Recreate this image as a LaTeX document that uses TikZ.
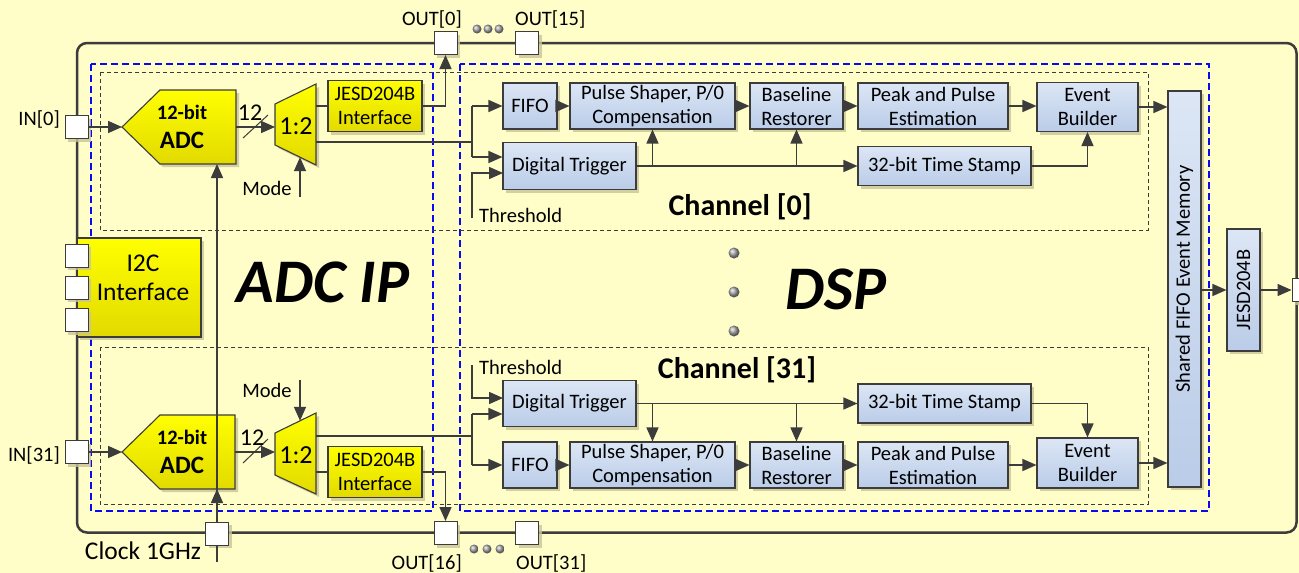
\documentclass[tikz,border=0pt]{standalone}
\usepackage{fontspec}
\setmainfont{Carlito}
\usetikzlibrary{arrows.meta,shadows,calc}

\definecolor{bg}{RGB}{255,253,200}
\definecolor{ln}{RGB}{60,60,60}
\definecolor{blueA}{RGB}{220,230,245}
\definecolor{blueB}{RGB}{186,204,232}
\definecolor{yelA}{RGB}{255,255,0}
\definecolor{yelB}{RGB}{226,218,0}
\definecolor{dashblue}{RGB}{10,10,240}
\definecolor{shadowc}{RGB}{200,196,150}

\tikzset{
  txt/.style={font=\fontsize{20.5}{24}\selectfont, text=black, inner sep=0pt},
  boxshadow/.style={drop shadow={shadow xshift=3pt,shadow yshift=-3pt,fill=shadowc,opacity=0.8}},
  dspbox/.style={txt, boxshadow, draw=ln, line width=1.1pt, top color=blueA, bottom color=blueB, align=center},
  yelbox/.style={txt, boxshadow, draw=ln, line width=1.1pt, top color=yelA, bottom color=yelB, align=center},
  yelshape/.style={boxshadow, draw=ln, line width=1.1pt, top color=yelA, bottom color=yelB},
  port/.style={draw=ln, line width=1pt, fill=white, minimum size=23pt, inner sep=0pt, boxshadow},
  conn/.style={draw=ln, line width=1.5pt},
  arr/.style={conn, -{Triangle[length=14pt,width=12pt]}},
  ipbox/.style={draw=dashblue, line width=1.8pt, dash pattern=on 7pt off 4pt},
  chbox/.style={draw=ln, line width=1pt, dash pattern=on 4pt off 3pt},
  chipframe/.style={draw=ln, line width=2.5pt, rounded corners=10pt},
  sphere/.style={ball color=gray!70, draw=none},
  bigtitle/.style={font=\fontsize{62}{62}\selectfont\bfseries\itshape, inner sep=0pt},
  chan/.style={font=\fontsize{30}{30}\selectfont\bfseries, inner sep=0pt},
  adcsmall/.style={txt, font=\fontsize{20.5}{24}\selectfont\bfseries},
  adcbig/.style={txt, font=\fontsize{25}{25}\selectfont\bfseries},
  muxtxt/.style={txt, font=\fontsize{26}{26}\selectfont},
  bustxt/.style={txt, font=\fontsize{24}{24}\selectfont},
  largetxt/.style={txt, font=\fontsize{25.5}{29}\selectfont, align=center},
}

\begin{document}
\begin{tikzpicture}[x=1pt,y=-1pt]
\useasboundingbox (0,0) rectangle (1299,573);
\fill[bg] (0,0) rectangle (1299,573);

% chip outline
\draw[chipframe] (77,43) rectangle (1296.5,532.5);

% ADC IP and DSP regions
\draw[ipbox] (91,64) rectangle (433,511);
\draw[ipbox] (460,64) rectangle (1209,511);

% channel frames
\draw[chbox] (100,72) rectangle (1148,230);
\draw[chbox] (100,347) rectangle (1148,504);

% ---------------- ADC side, channel 0 ----------------
\path[yelshape] (122,127) -- (160,90) -- (236,90) -- (236,164) -- (160,164) -- cycle;
\node[adcsmall] (adc0a) at (182,112) {12-bit};
\node[adcbig] (adc0b) at (182,140) {ADC};
\coordinate (adc0tip) at (122,127);
\coordinate (adc0out) at (236,127);
\coordinate (adc0clk) at (217,164);

\path[yelshape] (275,104) -- (316,84) -- (316,165) -- (275,145) -- cycle;
\node[muxtxt] (mux0) at (296,126) {1:2};
\coordinate (mux0in) at (275,127);
\coordinate (mux0up) at (316,106);
\coordinate (mux0dn) at (316,142);
\coordinate (mux0sel) at (300,157.2);
\coordinate (mode0) at (300,197);

\node[yelbox, minimum width=94pt, minimum height=51pt] (jesd0) at (375,106) {JESD204B\\Interface};

% ---------------- ADC side, channel 31 ----------------
\path[yelshape] (122,452) -- (160,415) -- (235,415) -- (235,489) -- (160,489) -- cycle;
\node[adcsmall] (adc31a) at (182,437) {12-bit};
\node[adcbig] (adc31b) at (182,465) {ADC};
\coordinate (adc31tip) at (122,452);
\coordinate (adc31out) at (235,452);
\coordinate (adc31clk) at (217,489);

\path[yelshape] (275,433) -- (316,413) -- (316,494) -- (275,475) -- cycle;
\node[muxtxt] (mux31) at (296,455) {1:2};
\coordinate (mux31in) at (275,452);
\coordinate (mux31up) at (316,436);
\coordinate (mux31dn) at (316,472);
\coordinate (mux31sel) at (300,420.8);
\coordinate (mode31) at (300,380);

\node[yelbox, minimum width=94pt, minimum height=51pt] (jesd31) at (375,472) {JESD204B\\Interface};

% I2C block
\node[yelbox, minimum width=124pt, minimum height=99pt] (i2c) at (139,287.5) {};
\node[largetxt] (i2clbl) at (143,278) {I2C\\Interface};

% ---------------- DSP, channel 0 ----------------
\node[dspbox, minimum width=54pt, minimum height=46pt] (fifo0) at (530,106) {FIFO};
\node[dspbox, minimum width=165pt, minimum height=46pt] (pulse0) at (652.5,106) {Pulse Shaper, P/0\\Compensation};
\node[dspbox, minimum width=93pt, minimum height=46pt] (base0) at (796.5,106) {Baseline\\Restorer};
\node[dspbox, minimum width=150pt, minimum height=46pt] (peak0) at (933,106) {Peak and Pulse\\Estimation};
\node[dspbox, minimum width=101pt, minimum height=49pt] (eb0) at (1087.5,107) {Event\\Builder};
\node[dspbox, minimum width=133pt, minimum height=47pt] (dt0) at (569.5,166) {Digital Trigger};
\node[dspbox, minimum width=173pt, minimum height=39pt] (ts0) at (944.5,166) {32-bit Time Stamp};

% ---------------- DSP, channel 31 ----------------
\node[dspbox, minimum width=133pt, minimum height=46pt] (dt31) at (569.5,403.5) {Digital Trigger};
\node[dspbox, minimum width=173pt, minimum height=39pt] (ts31) at (944.5,403.5) {32-bit Time Stamp};
\node[dspbox, minimum width=54pt, minimum height=46pt] (fifo31) at (530,465) {FIFO};
\node[dspbox, minimum width=165pt, minimum height=46pt] (pulse31) at (652.5,465) {Pulse Shaper, P/0\\Compensation};
\node[dspbox, minimum width=93pt, minimum height=46pt] (base31) at (796.5,465) {Baseline\\Restorer};
\node[dspbox, minimum width=150pt, minimum height=46pt] (peak31) at (933,465) {Peak and Pulse\\Estimation};
\node[dspbox, minimum width=101pt, minimum height=50pt] (eb31) at (1087.5,463) {Event\\Builder};

% shared memory and output serializer
\node[dspbox, minimum width=33pt, minimum height=396pt] (shared) at (1184.5,289) {\rotatebox{90}{\hspace{20pt}Shared FIFO Event Memory}};
\node[dspbox, minimum width=33pt, minimum height=122pt] (jesdR) at (1243.5,290) {\rotatebox{90}{JESD204B}};

% ---------------- ports on the chip outline ----------------
\node[port] (in0) at (76.5,127) {};
\node[port] (in31) at (76.5,452) {};
\node[port] (i2ca) at (76.5,255.5) {};
\node[port] (i2cb) at (76.5,287.5) {};
\node[port] (i2cc) at (76.5,320) {};
\node[port] (out0) at (445.5,43) {};
\node[port] (out15) at (527,43) {};
\node[port] (out16) at (445.5,533) {};
\node[port] (out31) at (527,533) {};
\node[port] (clk) at (217,533.5) {};
\node[port] (outR) at (1303.5,290) {};

% ---------------- connections, ADC side ----------------
\draw[arr] (in0.east) -- (adc0tip);
\draw[arr] (adc0out) -- (mux0in);
\draw[conn, line width=1pt] (243,138) -- (268,115);
\draw[conn] (mux0up) -- (jesd0.west);
\draw[arr] (jesd0.east) -| (out0.south);
\draw[arr] (mode0) -- (mux0sel);

\draw[arr] (in31.east) -- (adc31tip);
\draw[arr] (adc31out) -- (mux31in);
\draw[conn, line width=1pt] (243,463) -- (268,439);
\draw[conn] (mux31dn) -- (jesd31.west);
\draw[arr] (jesd31.east) -| (out16.north);
\draw[arr] (mode31) -- (mux31sel);

% clock distribution
\coordinate (clkin) at (217,562);
\draw[conn] (clkin) -- (clk.south);
\draw[arr] (clk.north) -- (adc31clk);
\draw[arr] (clk.north) -- (adc0clk);

% ---------------- connections, channel 0 ----------------
\coordinate (sp0a) at (472,106);
\coordinate (sp0b) at (472,157);
\coordinate (th0) at (472,218);
\draw[conn] (mux0dn) -- (472,142);
\draw[conn] (sp0a) -- (sp0b);
\draw[arr] (sp0a) -- (fifo0.west);
\draw[arr] (sp0b) -- (sp0b -| dt0.west);
\draw[arr] (th0) |- (503,173);
\draw[arr] (fifo0.east) -- (pulse0.west);
\draw[arr] (pulse0.east) -- (base0.west);
\draw[arr] (base0.east) -- (peak0.west);
\draw[arr] (peak0.east) -- (peak0.east -| eb0.west);
\draw[arr] (dt0.east) -- (ts0.west);
\draw[arr] (pulse0.south |- dt0.east) -- (pulse0.south);
\draw[arr] (base0.south |- dt0.east) -- (base0.south);
\draw[arr] (ts0.east) -| (eb0.south);
\draw[arr] (eb0.east) -- (eb0.east -| shared.west);

% ---------------- connections, channel 31 ----------------
\coordinate (sp31a) at (472,414);
\coordinate (sp31b) at (472,465);
\coordinate (th31) at (472,365);
\draw[conn] (mux31up) -- (472,436);
\draw[conn] (sp31a) -- (sp31b);
\draw[arr] (sp31a) -- (sp31a -| dt31.west);
\draw[arr] (sp31b) -- (fifo31.west);
\draw[arr] (th31) |- (503,398);
\draw[arr] (fifo31.east) -- (pulse31.west);
\draw[arr] (pulse31.east) -- (base31.west);
\draw[arr] (base31.east) -- (peak31.west);
\draw[arr] (peak31.east) -- (peak31.east -| eb31.west);
\draw[arr] (dt31.east) -- (ts31.west);
\draw[arr] (pulse31.north |- dt31.east) -- (pulse31.north);
\draw[arr] (base31.north |- dt31.east) -- (base31.north);
\draw[arr] (ts31.east) -| (eb31.north);
\draw[arr] (eb31.east) -- (eb31.east -| shared.west);

% memory to serializer to output
\draw[arr] (shared.east |- jesdR.west) -- (jesdR.west);
\draw[arr] (jesdR.east) -- (outR.west);

% ---------------- labels ----------------
\node[txt, anchor=east] (lin0) at (60,119) {IN[0]};
\node[txt, anchor=east] (lin31) at (60,455) {IN[31]};
\node[txt, anchor=base east] (lout0) at (462,25) {OUT[0]};
\node[txt, anchor=base west] (lout15) at (515,25) {OUT[15]};
\node[txt, anchor=base east] (lout16) at (462,569) {OUT[16]};
\node[txt, anchor=base west] (lout31) at (516,569) {OUT[31]};
\node[txt] (lmode0) at (267,188) {Mode};
\node[txt] (lmode31) at (267,390) {Mode};
\node[bustxt] (lbus0) at (250,113) {12};
\node[bustxt] (lbus31) at (252,438) {12};
\node[txt, anchor=west] (lth0) at (479,215) {Threshold};
\node[txt, anchor=west] (lth31) at (479,367) {Threshold};
\node[largetxt] (lclk) at (143,551) {Clock 1GHz};
\node[chan] (lch0) at (740,207) {Channel [0]};
\node[chan] (lch31) at (737,370) {Channel [31]};
\node[bigtitle] (ladc) at (323,282) {ADC IP};
\node[bigtitle] (ldsp) at (836,289) {DSP};

% continuation dots
\foreach \x in {477,488,499} \shade[sphere] (\x,29) circle (4.5pt);
\foreach \x in {474,487,500} \shade[sphere] (\x,549) circle (4.5pt);
\foreach \y in {253,292,331} \shade[sphere] (734,\y) circle (5.5pt);
\end{tikzpicture}
\end{document}
